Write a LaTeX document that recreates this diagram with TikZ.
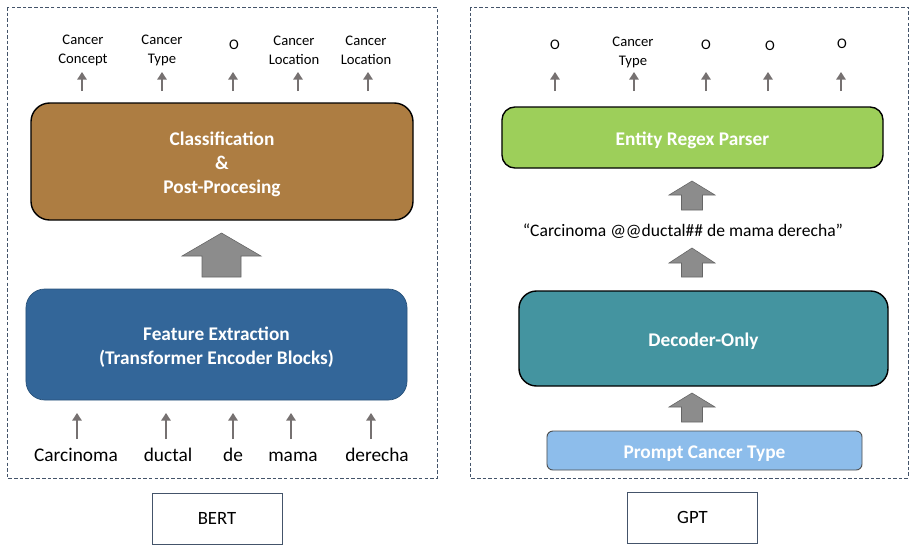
\documentclass[tikz,border=0pt]{standalone}
\usepackage{fontspec}
\setmainfont{Carlito}
\usetikzlibrary{arrows.meta}

\definecolor{clsbrown}{RGB}{173,125,66}
\definecolor{featblue}{RGB}{51,102,153}
\definecolor{regexgreen}{RGB}{157,207,90}
\definecolor{decteal}{RGB}{68,148,160}
\definecolor{promptblue}{RGB}{141,189,235}
\definecolor{panelline}{RGB}{68,84,106}
\definecolor{tokgray}{RGB}{118,113,113}
\definecolor{fatgray}{RGB}{140,140,140}

% block arrow pointing up: centre x, tip y, head base y, tail y, head half width, shaft half width
\newcommand{\fatup}[6]{%
  \draw[fatarrow] (#1,#2) -- (#1+#5,#3) -- (#1+#6,#3) -- (#1+#6,#4)
    -- (#1-#6,#4) -- (#1-#6,#3) -- (#1-#5,#3) -- cycle;}
% block text, set a little lower than the box centre
\newcommand{\lowtext}[1]{\raisebox{-2.5pt}[\height][\depth]{\begin{tabular}{@{}c@{}}#1\end{tabular}}}

\begin{document}
\begin{tikzpicture}[
    x=0.03cm, y=-0.03cm,
    panel/.style={draw=panelline, line width=0.8pt, dash pattern=on 3pt off 1.8pt},
    block/.style={
        rectangle,
        draw=black,
        line width=1.2pt,
        text=white,
        align=center,
        font=\fontsize{16.5}{20.5}\selectfont\bfseries
    },
    namebox/.style={
        rectangle,
        draw=panelline,
        line width=0.8pt,
        minimum width=3.9cm,
        minimum height=1.53cm,
        font=\fontsize{16}{19}\selectfont
    },
    tag/.style={align=center, font=\fontsize{12.5}{16.2}\selectfont},
    word/.style={font=\fontsize{16.5}{20}\selectfont, text height=0.7em, text depth=0pt},
    tokarrow/.style={draw=tokgray, line width=2.2pt, -{Triangle[width=8pt, length=6.5pt]}},
    fatarrow/.style={fill=fatgray, draw=gray!80!black, line width=0.5pt}
]
\useasboundingbox (0,0) rectangle (911,546);

% dashed panels
\draw[panel] (7,7) rectangle (437,478);
\draw[panel] (470,7) rectangle (908,478);

% BERT side
\node[block, fill=clsbrown, rounded corners=16pt, minimum width=11.46cm, minimum height=3.51cm]
    (cls) at (222,161.5) {\lowtext{Classification\\\&\\Post-Procesing}};
\node[block, fill=featblue, draw=featblue!80!black, line width=0.6pt, rounded corners=16pt,
    minimum width=11.43cm, minimum height=3.33cm]
    (feat) at (216.5,344.5) {\lowtext{Feature Extraction\\(Transformer Encoder Blocks)}};
\fatup{221.5}{233}{256}{277}{39.5}{19.5}

\node[tag] (lcon) at (83,50.5) {Cancer\\Concept};
\node[tag] (ltyp) at (162,50.5) {Cancer\\Type};
\node[tag] (lo) at (234,44.5) {O};
\node[tag] (lloc) at (294,50) {Cancer\\Location};
\node[tag] (lloc2) at (366,50) {Cancer\\Location};

\foreach \x/\n in {82/a, 162/b, 233/c, 298/d, 368/e} {
    \coordinate (ot\n) at (\x,91);
    \coordinate (oh\n) at (\x,72);
    \draw[tokarrow] (ot\n) -- (oh\n);
}

\node[word] (wcar) at (76,457) {Carcinoma};
\node[word] (wduc) at (168,457) {ductal};
\node[word] (wde) at (233,457) {de};
\node[word] (wmam) at (293,457) {mama};
\node[word] (wder) at (377,457) {derecha};

\foreach \x/\n in {77/a, 166/b, 233/c, 291/d, 371/e} {
    \coordinate (it\n) at (\x,439);
    \coordinate (ih\n) at (\x,413);
    \draw[tokarrow] (it\n) -- (ih\n);
}

\node[namebox] (bert) at (217,518.5) {BERT};

% GPT side
\node[block, fill=regexgreen, rounded corners=11pt, minimum width=11.43cm, minimum height=1.83cm]
    (regex) at (692.5,137.5) {\lowtext{Entity Regex Parser}};
\node[block, fill=decteal, rounded corners=15pt, minimum width=11.07cm, minimum height=2.85cm]
    (dec) at (703.5,338.5) {\lowtext{Decoder-Only}};
\node[block, fill=promptblue, draw=black!70, line width=0.8pt, rounded corners=5pt,
    minimum width=9.45cm, minimum height=1.17cm]
    (prompt) at (704.5,450.5) {\lowtext{Prompt Cancer Type}};

\node[font=\fontsize{15}{18}\selectfont] (gen) at (683,231) {“Carcinoma @@ductal\#\# de mama derecha”};

\fatup{692}{181}{195}{210}{23}{10.5}
\fatup{692}{248}{263}{277}{23}{10.5}
\fatup{692}{393}{407}{422}{23}{10.5}

\node[tag] (ro1) at (555,44.5) {O};
\node[tag] (rtyp) at (633,52.5) {Cancer\\Type};
\node[tag] (ro2) at (706,44.5) {O};
\node[tag] (ro3) at (770,45.5) {O};
\node[tag] (ro4) at (842,43.5) {O};

\foreach \x/\n in {555/a, 634/b, 706/c, 768/d, 841/e} {
    \coordinate (gt\n) at (\x,91);
    \coordinate (gh\n) at (\x,72);
    \draw[tokarrow] (gt\n) -- (gh\n);
}

\node[namebox] (gpt) at (692.5,517.5) {GPT};
\end{tikzpicture}
\end{document}
